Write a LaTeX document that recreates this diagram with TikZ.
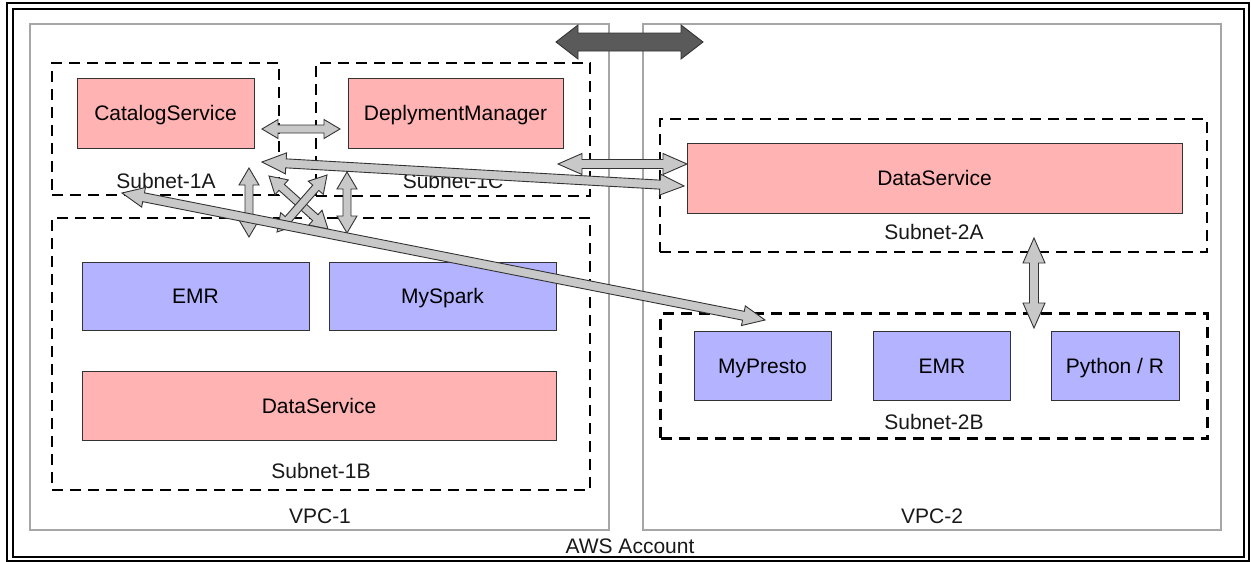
\documentclass[tikz,border=0pt]{standalone}
\usepackage{fontspec}
\setmainfont{Liberation Sans}
\usetikzlibrary{calc}

\definecolor{svcpink}{HTML}{FFB3B3}
\definecolor{svcblue}{HTML}{B3B3FF}
\definecolor{boxline}{HTML}{333333}
\definecolor{vpcgray}{HTML}{A6A6A6}
\definecolor{arrowfill}{HTML}{C8C8C8}
\definecolor{peerfill}{HTML}{5A5A5A}

% double-headed block arrow between two named points:
% [style]{from}{to}{head length}{head half-width}{shaft half-width}
\newcommand\blockarrow[6][]{%
  \draw[#1] (#2)
    -- ($(#2)!#4!(#3)!#5!90:(#3)$) -- ($(#2)!#4!(#3)!#6!90:(#3)$)
    -- ($(#3)!#4!(#2)!#6!-90:(#2)$) -- ($(#3)!#4!(#2)!#5!-90:(#2)$)
    -- (#3)
    -- ($(#3)!#4!(#2)!#5!90:(#2)$) -- ($(#3)!#4!(#2)!#6!90:(#2)$)
    -- ($(#2)!#4!(#3)!#6!-90:(#3)$) -- ($(#2)!#4!(#3)!#5!-90:(#3)$)
    -- cycle;}

\tikzset{
  boxtext/.style={inner sep=0pt, outer sep=0pt, text height=15pt, text depth=0pt},
  service/.style={boxtext, draw=boxline, line width=0.9pt, fill=svcpink},
  compute/.style={boxtext, draw=boxline, line width=0.9pt, fill=svcblue},
  subnet/.style={draw=black, line width=2.8pt, dash pattern=on 11pt off 7pt, inner sep=0pt, outer sep=0pt},
  vpc/.style={draw=vpcgray, line width=2.2pt, inner sep=0pt, outer sep=0pt},
  caption/.style={inner sep=0pt, text=black!90},
  flow/.style={draw=boxline, line width=0.9pt, fill=arrowfill, line join=miter},
  peering/.style={draw=boxline, line width=0.9pt, fill=peerfill, line join=miter},
}

\begin{document}
\begin{tikzpicture}[x=1pt, y=-1pt, font=\fontsize{21}{24}\selectfont]
\useasboundingbox (0,0) rectangle (1251,562);
\fill[white] (0,0) rectangle (1251,562);

% account frame (double line)
\draw[black, line width=1.6pt] (7,3) rectangle (1249,561);
\draw[black, line width=1.6pt] (13,9) rectangle (1244,557);
\node[caption] (aws) at (630,546) {AWS Account};

% VPCs
\node[vpc, minimum width=579pt, minimum height=506pt] (vpc1) at (319.5,277) {};
\node[vpc, minimum width=578pt, minimum height=506pt] (vpc2) at (932,277) {};
\node[caption] (vpc1lbl) at (320,516) {VPC-1};
\node[caption] (vpc2lbl) at (932,516) {VPC-2};

% subnets
\node[subnet, minimum width=227pt, minimum height=132pt] (s1a) at (165.5,129) {};
\node[subnet, minimum width=274pt, minimum height=133pt] (s1c) at (453,129.5) {};
\node[subnet, minimum width=538pt, minimum height=272pt] (s1b) at (321,354) {};
\node[subnet, minimum width=547pt, minimum height=133pt] (s2a) at (933.5,185.5) {};
\node[subnet, minimum width=547pt, minimum height=125pt] (s2b) at (934,376) {};
\node[caption] (s1albl) at (166,181) {Subnet-1A};
\node[caption] (s1clbl) at (453,181) {Subnet-1C};
\node[caption] (s1blbl) at (321,471) {Subnet-1B};
\node[caption] (s2albl) at (934,232) {Subnet-2A};
\node[caption] (s2blbl) at (934,422) {Subnet-2B};

% services
\node[service, minimum width=177pt, minimum height=70pt] (catalog) at (165.5,113) {CatalogService};
\node[service, minimum width=215pt, minimum height=70pt] (deploy) at (455.5,113) {DeplymentManager};
\node[compute, minimum width=227pt, minimum height=68pt] (emr1) at (195.5,296) {EMR};
\node[compute, minimum width=227pt, minimum height=68pt] (spark) at (442.5,296) {MySpark};
\node[service, minimum width=474pt, minimum height=69pt] (data1) at (319,405.5) {DataService};
\node[service, minimum width=495pt, minimum height=70pt] (data2) at (934.5,178) {DataService};
\node[compute, minimum width=137pt, minimum height=69pt] (presto) at (762.5,365.5) {MyPresto};
\node[compute, minimum width=137pt, minimum height=69pt] (emr2) at (942,365.5) {EMR};
\node[compute, minimum width=128pt, minimum height=69pt] (pyr) at (1115,365.5) {Python / R};

% arrow end points
\coordinate (pA) at (556,42);   \coordinate (pB) at (703,42);
\coordinate (cdA) at (262,129); \coordinate (cdB) at (340,129);
\coordinate (hA) at (558,164);  \coordinate (hB) at (687,164);
\coordinate (vlA) at (249,168); \coordinate (vlB) at (249,237);
\coordinate (vrA) at (347,172); \coordinate (vrB) at (347,233);
\coordinate (xaA) at (269,176); \coordinate (xaB) at (328,229);
\coordinate (xbA) at (327,175); \coordinate (xbB) at (277,232);
\coordinate (lgA) at (262,162); \coordinate (lgB) at (684,186);
\coordinate (dgA) at (122,193); \coordinate (dgB) at (765,320);
\coordinate (v2A) at (1034,238); \coordinate (v2B) at (1034,328);

% VPC peering
\blockarrow[peering]{pA}{pB}{22pt}{17pt}{9pt}

% traffic between subnets
\blockarrow[flow]{cdA}{cdB}{16pt}{9.5pt}{4pt}
\blockarrow[flow]{hA}{hB}{24pt}{10.5pt}{4.5pt}
\blockarrow[flow]{vlA}{vlB}{17pt}{10pt}{4pt}
\blockarrow[flow]{vrA}{vrB}{17pt}{10pt}{4pt}
\blockarrow[flow]{xaA}{xaB}{17pt}{10pt}{4pt}
\blockarrow[flow]{xbA}{xbB}{17pt}{10pt}{4pt}
\blockarrow[flow]{lgA}{lgB}{24pt}{10.5pt}{4.5pt}
\blockarrow[flow]{dgA}{dgB}{22pt}{10pt}{4.5pt}
\blockarrow[flow]{v2A}{v2B}{25pt}{11pt}{4.5pt}
\end{tikzpicture}
\end{document}
